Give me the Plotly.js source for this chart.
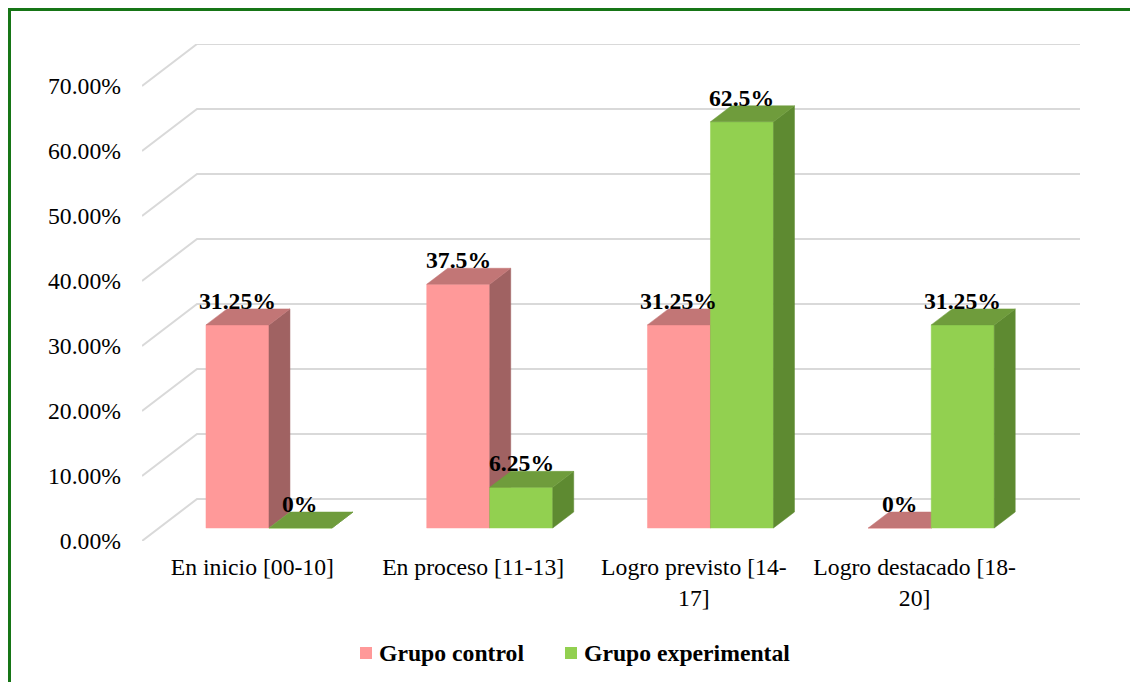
<!DOCTYPE html>
<html>
<head>
<meta charset="utf-8">
<script src="https://cdn.plot.ly/plotly-3.0.1.min.js"></script>
<style>
  html, body { margin: 0; padding: 0; background: #ffffff; }
  #wrap { position: relative; width: 1130px; height: 682px; overflow: hidden; }
  #chart { position: absolute; left: 0; top: 0; width: 1130px; height: 682px; }
  #frame { position: absolute; left: 8px; top: 8px; width: 2000px; height: 2000px;
           border-top: 3px solid #167516; border-left: 3px solid #167516; pointer-events: none; }
</style>
</head>
<body>
<div id="wrap"><div id="chart"></div><div id="frame"></div></div>
<script>
// ---- data ----
const categories = ['En inicio [00-10]', 'En proceso [11-13]', 'Logro previsto [14-17]', 'Logro destacado [18-20]'];
const categoryTickText = ['En inicio [00-10]', 'En proceso [11-13]', 'Logro previsto [14-<br>17]', 'Logro destacado [18-<br>20]'];
const seriesNames = ['Grupo control', 'Grupo experimental'];
const controlValues = [31.25, 37.5, 31.25, 0];
const experimentalValues = [0, 6.25, 62.5, 31.25];
const yTickValues = [0, 10, 20, 30, 40, 50, 60, 70];
const yTickText = ['0.00%', '10.00%', '20.00%', '30.00%', '40.00%', '50.00%', '60.00%', '70.00%'];

// ---- styling / geometry (pixels, converted through axis units) ----
const FONT = 'Liberation Serif';
const FS = 23.7;
const W = 1130, H = 682;
const plotLeft = 142, plotRight = 1080, plotTop = 44, plotBottom = 541;
const wallDX = 55, wallDY = 42;           // depth of floor/back wall in px
const frontWidthPx = (plotRight - plotLeft) - wallDX;
const pxPerCat = frontWidthPx / categories.length;
const pxPerUnit = (plotBottom - plotTop - wallDY) / 70;
const px2x = p => p / pxPerCat;
const px2y = p => p / pxPerUnit;
const xRange = [-0.5, categories.length - 0.5 + px2x(wallDX)];
const yRange = [0, 70 + px2y(wallDY)];
const paperX = p => (p - plotLeft) / (plotRight - plotLeft);
const paperY = p => (plotBottom - p) / (plotBottom - plotTop);

const barOffX = px2x(16.6), barOffY = px2y(13);   // bar front plane offset
const barW = px2x(63);
const barDX = px2x(21), barDY = px2y(16);         // bar depth

const colors = [
  {front: '#FF9999', side: '#A06262', top: '#C27676'},
  {front: '#92D050', side: '#5E8A31', top: '#6F9C3C'}
];

const traces = [];

// gridlines (front diagonal + back wall horizontal)
const gx = [], gy = [];
yTickValues.forEach(v => {
  gx.push(xRange[0], xRange[0] + px2x(wallDX), xRange[1], null);
  gy.push(v, v + px2y(wallDY), v + px2y(wallDY), null);
});
traces.push({type: 'scatter', mode: 'lines', x: gx, y: gy, line: {color: '#D9D9D9', width: 2},
             hoverinfo: 'skip', showlegend: false});

const annotations = [];
[controlValues, experimentalValues].forEach((vals, s) => {
  const fx = [], fy = [], sx = [], sy = [], tx = [], ty = [];
  vals.forEach((v, i) => {
    const c = i + barOffX;
    const xL = c + (s - 1) * barW, xR = xL + barW;
    const y0 = barOffY, y1 = y0 + v;
    fx.push(xL, xR, xR, xL, xL, null); fy.push(y0, y0, y1, y1, y0, null);
    sx.push(xR, xR + barDX, xR + barDX, xR, xR, null); sy.push(y0, y0 + barDY, y1 + barDY, y1, y0, null);
    tx.push(xL, xR, xR + barDX, xL + barDX, xL, null); ty.push(y1, y1, y1 + barDY, y1 + barDY, y1, null);
    annotations.push({x: (xL + xR) / 2, y: y1, xref: 'x', yref: 'y', text: v + '%', showarrow: false,
      yanchor: 'middle', yshift: 24, font: {family: FONT, size: FS, color: '#000', weight: 'bold'}});
  });
  [[fx, fy, colors[s].front], [sx, sy, colors[s].side], [tx, ty, colors[s].top]].forEach(([x, y, col]) => {
    traces.push({type: 'scatter', mode: 'lines', x: x, y: y, fill: 'toself', fillcolor: col,
      line: {color: col, width: 0.5}, hoverinfo: 'skip', showlegend: false});
  });
});

// legend (custom: square + bold label)
const legendSquareLeft = [360, 565];
const legendY = 653;
const shapes = [];
seriesNames.forEach((n, s) => {
  const x0 = legendSquareLeft[s];
  shapes.push({type: 'rect', xref: 'paper', yref: 'paper',
    x0: paperX(x0), x1: paperX(x0 + 12), y0: paperY(legendY + 6), y1: paperY(legendY - 6),
    fillcolor: colors[s].front, line: {width: 0}});
  annotations.push({xref: 'paper', yref: 'paper', x: paperX(x0 + 17), y: paperY(legendY),
    xanchor: 'left', yanchor: 'middle', text: n, showarrow: false,
    font: {family: FONT, size: FS, color: '#000', weight: 'bold'}});
});

const layout = {
  width: W, height: H,
  margin: {l: plotLeft, r: W - plotRight, t: plotTop, b: H - plotBottom, pad: 0, autoexpand: false},
  paper_bgcolor: '#ffffff', plot_bgcolor: '#ffffff',
  hovermode: false,
  showlegend: false,
  xaxis: {range: xRange, tickmode: 'array', tickvals: categories.map((c, i) => i), ticktext: categoryTickText,
          showgrid: false, zeroline: false, showline: false, ticks: '', ticklabelstandoff: 9, automargin: false,
          tickfont: {family: FONT, size: FS, color: '#000'}, fixedrange: true},
  yaxis: {range: yRange, tickmode: 'array', tickvals: yTickValues, ticktext: yTickText, automargin: false,
          showgrid: false, zeroline: false, showline: false, ticks: '', ticklabelstandoff: 20,
          tickfont: {family: FONT, size: FS, color: '#000'}, fixedrange: true},
  shapes: shapes,
  annotations: annotations
};

Plotly.newPlot('chart', traces, layout, {displayModeBar: false, staticPlot: true});
</script>
</body>
</html>
